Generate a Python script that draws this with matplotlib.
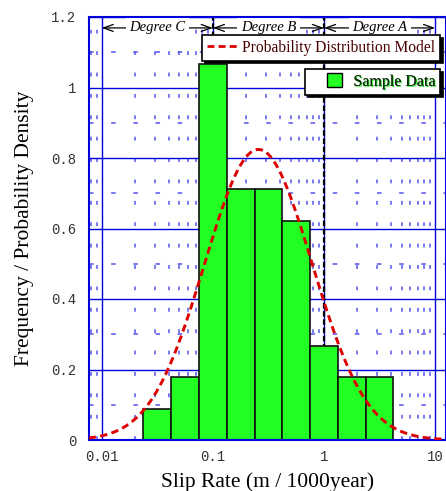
import numpy as np
import matplotlib
matplotlib.use("Agg")
import matplotlib.pyplot as plt
from matplotlib.ticker import MultipleLocator, FixedLocator, NullFormatter
from matplotlib.lines import Line2D
from matplotlib.patches import Patch, Rectangle
from matplotlib.legend_handler import HandlerPatch
import matplotlib.patheffects as pe

# ---------------- data ----------------
bin_edges_log10 = [-1.625, -1.375, -1.125, -0.875, -0.625, -0.375, -0.125, 0.125, 0.375, 0.625]
bar_density = [0.089, 0.178, 1.067, 0.711, 0.711, 0.622, 0.267, 0.178, 0.178]
model_mu_log10 = -0.59
model_sigma_log10 = 0.484
degree_bounds = [0.01, 0.1, 1, 10]
degree_labels = ["Degree C", "Degree B", "Degree A"]
x_ticks = [0.01, 0.1, 1, 10]
x_ticklabels = ["0.01", "0.1", "1", "10"]
y_ticks = [0, 0.2, 0.4, 0.6, 0.8, 1.0, 1.2]
y_ticklabels = ["0", "0.2", "0.4", "0.6", "0.8", "1", "1.2"]

SERIF = "Liberation Serif"
MONO = "Liberation Mono"

fig = plt.figure(figsize=(4.46, 4.91), dpi=100)
ax = fig.add_axes([88.7 / 446, 51 / 491, (445.5 - 88.7) / 446, 423 / 491])
ax.set_xscale("log")
ax.set_xlim(0.00764, 12.4)
ax.set_ylim(0, 1.2)

# grid
ax.yaxis.set_minor_locator(MultipleLocator(0.1))
ax.xaxis.grid(True, which="major", color="#0000dd", lw=1.0, zorder=0)
ax.yaxis.grid(True, which="major", color="#0000dd", lw=1.0, zorder=0)
ax.xaxis.grid(True, which="minor", color="#5555ee", lw=1.1, linestyle=(0, (2.5, 11.5)), zorder=0)
ax.yaxis.grid(True, which="minor", color="#5555ee", lw=1.1, linestyle=(0, (3, 11.5)), zorder=0)
ax.set_axisbelow(True)

# degree boundary lines
for b in degree_bounds[1:-1]:
    ax.axvline(b, color="black", lw=1.6, linestyle=(0, (2.5, 1.2)), zorder=1)

# bars
edges = 10 ** np.array(bin_edges_log10)
ax.bar(edges[:-1], bar_density, width=edges[1:] - edges[:-1], align="edge",
       color="#22ff22", edgecolor="#111111", lw=1.2, zorder=2)

# model curve
xs = np.logspace(np.log10(0.00764), np.log10(12.4), 500)
pdf = np.exp(-(np.log10(xs) - model_mu_log10) ** 2 / (2 * model_sigma_log10 ** 2)) / (
    model_sigma_log10 * np.sqrt(2 * np.pi))
ax.plot(xs, pdf, color="#dd0000", lw=2.1, linestyle=(0, (2.5, 1.5)), zorder=3)

# degree arrows
y_arr = 1.169
for i, lab in enumerate(degree_labels):
    x0, x1 = degree_bounds[i], degree_bounds[i + 1]
    ax.annotate("", xy=(x0, y_arr), xytext=(x1, y_arr),
                arrowprops=dict(arrowstyle="<->,head_length=0.7,head_width=0.25", color="black", lw=0.9,
                                shrinkA=0, shrinkB=0, mutation_scale=10), zorder=4)
    ax.text(np.sqrt(x0 * x1), y_arr, lab, ha="center", va="center",
            fontsize=10.5, fontstyle="italic", family=SERIF, zorder=5,
            bbox=dict(facecolor="white", edgecolor="none", pad=2.5))

# ticks
ax.xaxis.set_major_locator(FixedLocator(x_ticks))
ax.set_xticklabels(x_ticklabels)
ax.xaxis.set_minor_formatter(NullFormatter())
ax.set_yticks(y_ticks)
ax.set_yticklabels(y_ticklabels)
ax.tick_params(which="both", length=0)
ax.tick_params(axis="y", pad=9)
ax.tick_params(axis="x", pad=7)
for lbl in ax.get_xticklabels() + ax.get_yticklabels():
    lbl.set_family(MONO)
    lbl.set_fontsize(10)
    lbl.set_color("#333333")

for s in ax.spines.values():
    s.set_color("#0000dd")
    s.set_linewidth(1.5)

ax.set_xlabel("Slip Rate (m / 1000year)", family=SERIF, fontsize=15.5, labelpad=6)
ax.set_ylabel("Frequency / Probability Density", family=SERIF, fontsize=15.5, labelpad=12)

# legends
h1 = Line2D([], [], color="#dd0000", lw=2.0, linestyle=(0, (2.5, 1.5)))
leg1 = ax.legend([h1], ["Probability Distribution Model"], loc="upper right",
                 bbox_to_anchor=(0.9846, 0.957), borderaxespad=0, fancybox=False,
                 shadow={"color": "black", "alpha": 1}, framealpha=1, edgecolor="black",
                 prop={"family": SERIF, "size": 11.2}, handlelength=2.05, handletextpad=0.24,
                 borderpad=0.3)
leg1.get_frame().set_linewidth(1.2)
for t in leg1.get_texts():
    t.set_color("#4a0000")
leg1.set_zorder(10)
ax.add_artist(leg1)


def small_square(legend, orig_handle, xdescent, ydescent, width, height, fontsize):
    w, h = 10.8, 10.1
    return Rectangle((-xdescent + width - w - 5.0, -ydescent + (height - h) / 2), w, h)


h2 = Patch(facecolor="#22ff22", edgecolor="black", lw=1.0)
leg2 = ax.legend([h2], ["Sample Data"], loc="upper right",
                 bbox_to_anchor=(0.9846, 0.877), borderaxespad=0, fancybox=False,
                 shadow={"color": "black", "alpha": 1}, framealpha=1, edgecolor="black",
                 prop={"family": SERIF, "size": 11.5}, handlelength=2.45,
                 handletextpad=0.3, borderpad=0.3,
                 handler_map={Patch: HandlerPatch(patch_func=small_square)})
leg2.get_frame().set_linewidth(1.2)
for t in leg2.get_texts():
    t.set_color("#0a2a0a")
    t.set_path_effects([pe.withSimplePatchShadow(offset=(0.8, -0.8), shadow_rgbFace="#33ee33", alpha=1), pe.Normal()])
leg2.set_zorder(10)

fig.savefig("out.png", dpi=100)
